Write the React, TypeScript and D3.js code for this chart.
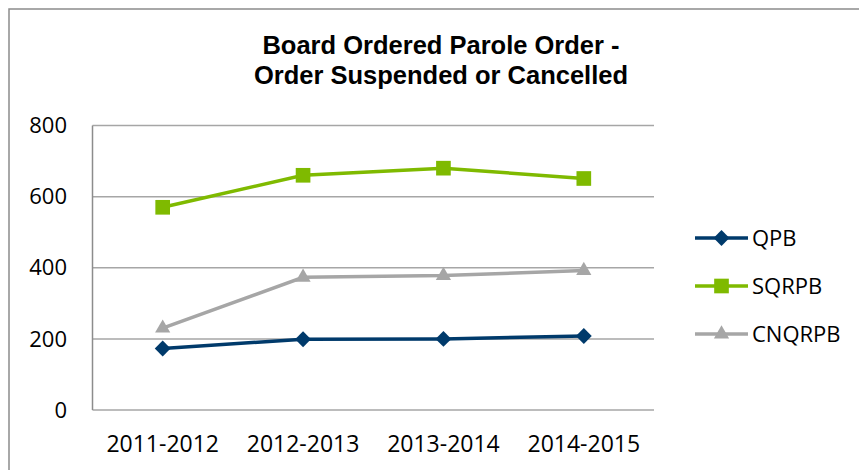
import React from "react";
import * as d3 from "d3";

const categories = ["2011-2012", "2012-2013", "2013-2014", "2014-2015"];
const qpb = [173, 199, 200, 208];
const sqrpb = [570, 660, 680, 651];
const cnqrpb = [230, 373, 378, 392];
const yTicks = [0, 200, 400, 600, 800];
const titleLines = ["Board Ordered Parole Order -", "Order Suspended or Cancelled"];

const series = [
  { name: "QPB", values: qpb, color: "#003a6b", marker: "diamond" },
  { name: "SQRPB", values: sqrpb, color: "#7fba00", marker: "square" },
  { name: "CNQRPB", values: cnqrpb, color: "#a6a6a6", marker: "triangle" },
];

const W = 859;
const H = 470;
const plot = { left: 92.5, right: 654, top: 125.5, bottom: 410 };

function markerPath(type: string) {
  if (type === "diamond") return d3.symbol(d3.symbolDiamond2, 160)();
  if (type === "square") return d3.symbol(d3.symbolSquare, 215)();
  return d3.symbol(d3.symbolTriangle, 100)();
}

export default function App() {
  const x = d3.scaleBand<string>().domain(categories).range([plot.left, plot.right]);
  const y = d3.scaleLinear().domain([0, 800]).range([plot.bottom, plot.top]);
  const line = d3
    .line<number>()
    .x((_, i) => (x(categories[i]) as number) + x.bandwidth() / 2)
    .y((d) => y(d));
  const labelFont = "'Open Sans', sans-serif";

  return (
    <svg
      width={W}
      height={H}
      style={{ position: "absolute", left: 0, top: 0, background: "#fff" }}
    >
      <rect x={9} y={9} width={W + 20} height={H + 20} fill="#fff" stroke="#8c8c8c" strokeWidth={1.5} />
      {titleLines.map((t, i) => (
        <text
          key={t}
          x={441}
          y={54 + i * 30}
          textAnchor="middle"
          fontFamily="'Liberation Sans', Arial, sans-serif"
          fontWeight="bold"
          fontSize={25.5}
          fill="#000"
        >
          {t}
        </text>
      ))}
      {yTicks.map((t) => (
        <g key={t}>
          <line
            x1={plot.left}
            x2={plot.right}
            y1={y(t)}
            y2={y(t)}
            stroke="#a6a6a6"
            strokeWidth={1.5}
          />
          <text
            x={67}
            y={y(t)}
            dy="0.35em"
            textAnchor="end"
            fontFamily={labelFont}
            fontSize={22}
            fill="#000"
          >
            {t}
          </text>
        </g>
      ))}
      <line x1={plot.left} x2={plot.left} y1={plot.top} y2={plot.bottom} stroke="#8c8c8c" strokeWidth={1.5} />
      {categories.map((c) => (
        <text
          key={c}
          x={(x(c) as number) + x.bandwidth() / 2}
          y={452}
          textAnchor="middle"
          fontFamily={labelFont}
          fontSize={23}
          fill="#000"
        >
          {c}
        </text>
      ))}
      {series.map((s) => (
        <g key={s.name}>
          <path d={line(s.values) || ""} fill="none" stroke={s.color} strokeWidth={3.5} />
          {s.values.map((v, i) => (
            <path
              key={i}
              d={markerPath(s.marker) || ""}
              transform={`translate(${(x(categories[i]) as number) + x.bandwidth() / 2},${y(v)})`}
              fill={s.color}
            />
          ))}
        </g>
      ))}
      {series.map((s, i) => {
        const cy = 238 + i * 48;
        return (
          <g key={s.name}>
            <line x1={695} x2={748} y1={cy} y2={cy} stroke={s.color} strokeWidth={3.5} />
            <path d={markerPath(s.marker) || ""} transform={`translate(721.5,${cy})`} fill={s.color} />
            <text
              x={752}
              y={cy}
              dy="0.35em"
              fontFamily={labelFont}
              fontSize={22}
              fill="#000"
            >
              {s.name}
            </text>
          </g>
        );
      })}
    </svg>
  );
}
